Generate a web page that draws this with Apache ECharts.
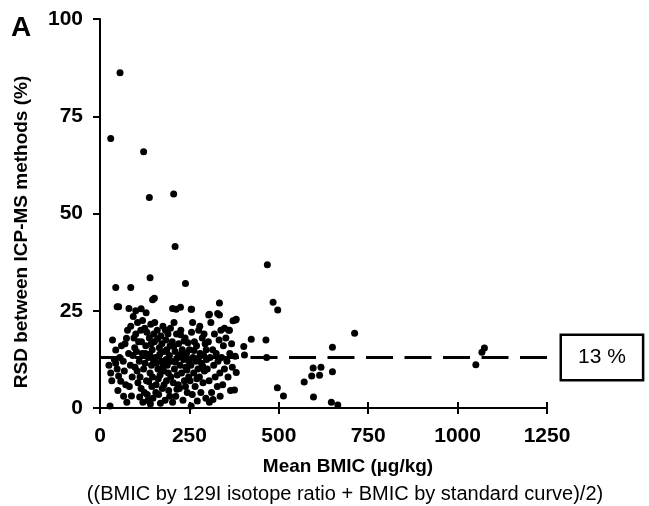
<!DOCTYPE html>
<html>
<head>
<meta charset="utf-8">
<script src="https://cdn.jsdelivr.net/npm/echarts@6/dist/echarts.min.js"></script>
<style>
html,body{margin:0;padding:0;background:#fff;}
#chart{width:649px;height:506px;}
</style>
</head>
<body>
<div id="chart"></div>
<script>
// ---- data ----
const panelLabel = 'A';
const yAxisTitle = 'RSD between ICP-MS methods (%)';
const xAxisTitle = 'Mean BMIC (µg/kg)';
const xAxisSubtitle = '((BMIC by 129I isotope ratio + BMIC by standard curve)/2)';
const xRange = [0, 1250, 250];
const yRange = [0, 100, 25];
const refValue = 13;
const refLabel = '13 %';

// high outliers
const highPoints = [[56,86.2],[30,69.3],[122,65.9],[138,54.1],[206,55],[210,41.5]];
// upper edge of the main cluster
const upperPoints = [[44,31],[86,31],[140,33.5],[239,32],[48,26],[52,26],[81,25.6],[147,27.8],[152,28.2],
  [203,25.6],[225,25.9],[256,25.4],[100,25],[115,25.5],[129,24.5],[93,23.5],[213,25.4],[255,25.4],
  [306,24.1],[334,23.9],[334,27],[304,23.9],[329,24.3],[348,20.5],[362,20],[379,22.6],[372,22.4],[381,22.8]];
// dense cluster
const clusterPoints = [
  [28,0.5],[30,9],[35,17.5],[44,14.9],[44,11.5],[52,8.2],[58,6.9],[40,12.5],[48,10],[55,13],[25,11],[33,7],[50,4.5],[60,16],
  [70,16.5],[74,17.9],[77,20],[65,12],[68,9.5],[72,6],[80,14],[85,11],[88,3.1],[90,8],[95,18],[92,13.5],[82,5.5],[98,10.5],[66,3],[75,1.5],[86,21],[97,15.5],
  [100,19],[105,22],[108,17],[110,12],[112,8],[115,5],[118,14],[120,1.5],[122,10],[125,20.5],[128,16],[130,7],[132,3.5],[134,1.9],[135,13],[138,18],[140,9],[142,21.5],[144,11],[145,5.5],[146,15],[148,2.5],[150,19],[102,14.5],[106,6.5],[114,20],[126,11.5],[136,6.8],[143,16.5],[149,12.5],[104,9.5],[116,17],[124,4],[131,19.5],[139,13.8],[147,8],[111,2.8],[119,22.5],[127,14],[141,1],
  [152,17],[155,13],[157,6],[160,20],[162,10],[164,3.5],[166,15.5],[168,8.5],[170,18.5],[172,12],[174,5],[176,21],[178,9.5],[180,14.5],[182,2],[184,17.5],[186,7],[188,11],[190,19],[192,4.5],[194,13.5],[196,16],[198,8],[153,22],[158,11.5],[163,7.5],[169,1.2],[173,16.5],[179,6],[185,12.5],[191,9],[197,20.5],[156,4],[167,13.8],[177,10.8],[187,15],[195,3],[161,17.8],[183,20],
  [200,12],[202,17],[205,6.5],[207,22],[208,10],[210,14.5],[212,3],[214,19],[216,8.5],[218,13],[220,16.5],[222,5],[224,11],[226,20],[228,9],[230,15],[232,2],[234,12.5],[236,7],[238,18],[240,10.5],[242,14],[244,4],[246,16.8],[248,8],[203,1.5],[211,11.8],[219,6],[227,13.8],[235,17.2],[243,9.8],[249,12],[206,15.8],[215,4.8],[225,18.8],[239,5.5],
  [250,15],[252,7],[254,11],[256,19.5],[258,3.5],[260,13],[262,9],[264,17],[266,5.5],[268,12],[270,16],[272,1.8],[274,10],[276,20],[278,8],[280,14],[282,4],[284,11.5],[286,18],[288,6.5],[290,13.5],[292,9.5],[294,16.5],[296,2.5],[298,12.5],[255,0.5],[263,14.8],[271,7.5],[279,21],[287,10.8],[297,15],[259,22],[275,12.8],[291,19],
  [300,10],[303,17],[305,7],[308,13],[310,22],[312,4],[315,15],[318,11],[320,19],[322,8],[325,14],[328,5.5],[330,12],[333,17.5],[335,9],[338,20],[340,13],[343,6],[345,16],[348,10],[306,1.5],[316,2.2],[336,3],
  [352,18],[355,12],[358,8],[360,20],[363,14],[365,4.5],[368,16.5],[370,10.5],[376,4.6],[381,9.1],[378,13.3]
];
// sparse points to the right
const midPoints = [[468,36.8],[484,27.2],[497,25.2],[423,17.7],[464,17.5],[402,15.8],[404,13.6],[466,13],[496,5.2],[513,3.1],
  [571,6.7],[592,8.2],[596,10.3],[618,10.5],[614,8.4],[597,2.8],[650,15.6],[650,9.3],[647,1.5],[665,0.8],[712,19.2]];
const farPoints = [[1051,11.1],[1068,14.3],[1075,15.4]];

const allPoints = highPoints.concat(upperPoints, clusterPoints, midPoints, farPoints);

const FONT = '"Liberation Sans", Arial, sans-serif';
const chart = echarts.init(document.getElementById('chart'), null, {renderer:'canvas'});

const axisBase = {
  axisLine:{show:true, lineStyle:{color:'#000', width:2}},
  splitLine:{show:false}
};

chart.setOption({
  animation:false,
  backgroundColor:'#fff',
  grid:{left:100, right:102, top:19, bottom:98, containLabel:false},
  xAxis:[
    Object.assign({}, axisBase, {
      type:'value', min:xRange[0], max:xRange[1], interval:xRange[2], position:'bottom',
      axisTick:{show:true, inside:false, length:6, lineStyle:{color:'#000', width:2}},
      axisLabel:{color:'#000', fontSize:21, fontWeight:'bold', fontFamily:FONT, margin:18,
        formatter:function(v){return String(v);}}
    }),
    {
      type:'value', min:xRange[0], max:xRange[1], interval:xRange[2], position:'bottom',
      axisLine:{show:false}, splitLine:{show:false},
      axisTick:{show:true, inside:true, length:6, lineStyle:{color:'#000', width:2}},
      axisLabel:{show:false}
    }
  ],
  yAxis:Object.assign({}, axisBase, {
    type:'value', min:yRange[0], max:yRange[1], interval:yRange[2],
    axisTick:{show:true, inside:false, length:7, lineStyle:{color:'#000', width:2}},
    axisLabel:{color:'#000', fontSize:21, fontWeight:'bold', fontFamily:FONT, margin:17}
  }),
  graphic:[
    {type:'text', left:11, top:14, style:{text:panelLabel, font:'bold 28px '+FONT, fill:'#000'}},
    {type:'text', x:22, y:232, rotation:Math.PI/2,
      style:{text:yAxisTitle, font:'bold 19px '+FONT, fill:'#000', textAlign:'center', textVerticalAlign:'middle'}},
    {type:'text', x:348, y:467,
      style:{text:xAxisTitle, font:'bold 19px '+FONT, fill:'#000', textAlign:'center', textVerticalAlign:'middle'}},
    {type:'text', x:345, y:494,
      style:{text:xAxisSubtitle, font:'20px '+FONT, fill:'#000', textAlign:'center', textVerticalAlign:'middle'}}
  ],
  series:[{
    type:'scatter',
    xAxisIndex:0,
    data:allPoints,
    symbol:'circle',
    symbolSize:7,
    itemStyle:{color:'#000', opacity:1},
    markLine:{
      silent:true,
      symbol:['none','none'],
      lineStyle:{color:'#000', width:3, type:[27,11.5], dashOffset:3.5},
      label:{show:true, position:'end', formatter:refLabel, distance:15,
        color:'#000', fontSize:21, fontFamily:FONT,
        backgroundColor:'#fff', borderColor:'#000', borderWidth:2.5, padding:[11,16,11,16]},
      data:[[{coord:[xRange[0], refValue]},{coord:[xRange[1], refValue]}]]
    }
  }]
});
</script>
</body>
</html>
